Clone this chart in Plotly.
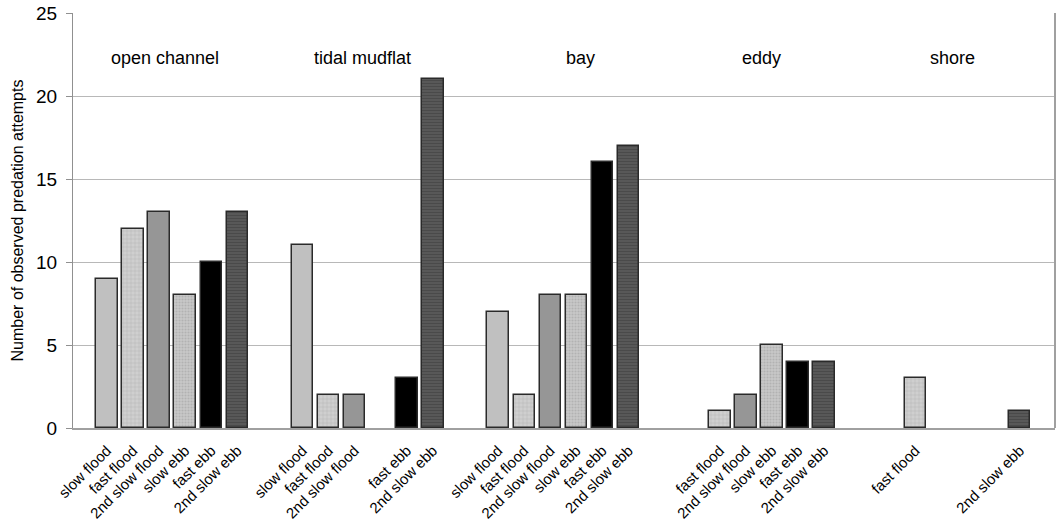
import plotly.graph_objects as go

groups = ["open channel", "tidal mudflat", "bay", "eddy", "shore"]
series = ["slow flood", "fast flood", "2nd slow flood", "slow ebb", "fast ebb", "2nd slow ebb"]
# values per series, per group (None = not observed / no bar)
slow_flood = [9, 11, 7, None, None]
fast_flood = [12, 2, 2, 1, 3]
second_slow_flood = [13, 2, 8, 2, None]
slow_ebb = [8, None, 8, 5, None]
fast_ebb = [10, 3, 16, 4, None]
second_slow_ebb = [13, 21, 17, 4, 1]
values = [slow_flood, fast_flood, second_slow_flood, slow_ebb, fast_ebb, second_slow_ebb]

PERIOD = 7.5
styles = [
    dict(color="#c0c0c0", pattern=None),
    dict(color="#cfcfcf", pattern=dict(shape="+", fgcolor="#a8a8a8", size=4, solidity=0.3)),
    dict(color="#969696", pattern=None),
    dict(color="#c8c8c8", pattern=dict(shape=".", fgcolor="#9c9c9c", size=3, solidity=0.4)),
    dict(color="#000000", pattern=None),
    dict(color="#5a5a5a", pattern=dict(shape="-", fgcolor="#3a3a3a", size=3, solidity=0.4)),
]

fig = go.Figure()
tickvals, ticktext = [], []
for j, (name, vals) in enumerate(zip(series, values)):
    xs, ys = [], []
    for g, v in enumerate(vals):
        if v is None:
            continue
        x = g * PERIOD + j
        xs.append(x)
        ys.append(v)
        tickvals.append(x)
        ticktext.append(name)
    marker = dict(color=styles[j]["color"], line=dict(color="#2a2a2a", width=1.5))
    if styles[j]["pattern"]:
        marker["pattern"] = dict(bgcolor=styles[j]["color"], **styles[j]["pattern"])
    fig.add_trace(go.Bar(x=xs, y=ys, name=name, width=0.82, marker=marker, showlegend=False))

shifts = [-7, -5, 17, 3, -2]
for g, gname in enumerate(groups):
    fig.add_annotation(x=g * PERIOD + 2.5, y=22.3, text=gname, showarrow=False,
                       xshift=shifts[g], font=dict(size=18, color="#000000"))

fig.add_shape(type="line", xref="paper", yref="paper", x0=1, x1=1, y0=0, y1=1,
              line=dict(color="#a0a0a0", width=2))

fig.update_layout(
    width=1057, height=531,
    margin=dict(l=73, r=2, t=13, b=103),
    plot_bgcolor="white", paper_bgcolor="white",
    font=dict(family="Liberation Sans, Arial, sans-serif", color="#000000"),
    bargap=0,
)
fig.update_xaxes(range=[-1.3, 36.35], tickmode="array", tickvals=tickvals, ticktext=ticktext,
                 tickangle=-45, tickfont=dict(size=15), showgrid=False, showline=True,
                 linecolor="#a0a0a0", linewidth=2, ticks="", ticklabelstandoff=6,
                 zeroline=False, automargin=False)
fig.update_yaxes(range=[0, 25], dtick=5, tickfont=dict(size=19),
                 showgrid=True, gridcolor="#b8b8b8", gridwidth=1.3,
                 showline=True, linecolor="#909090", linewidth=1.3,
                 ticks="outside", ticklen=6, tickcolor="#909090", ticklabelstandoff=5,
                 zeroline=False, automargin=False,
                 title=dict(text="Number of observed predation attempts", font=dict(size=16), standoff=8))

fig.write_html("out.html", config={"displayModeBar": False},
               post_script="document.body.style.margin='0';document.body.style.overflow='hidden';")
